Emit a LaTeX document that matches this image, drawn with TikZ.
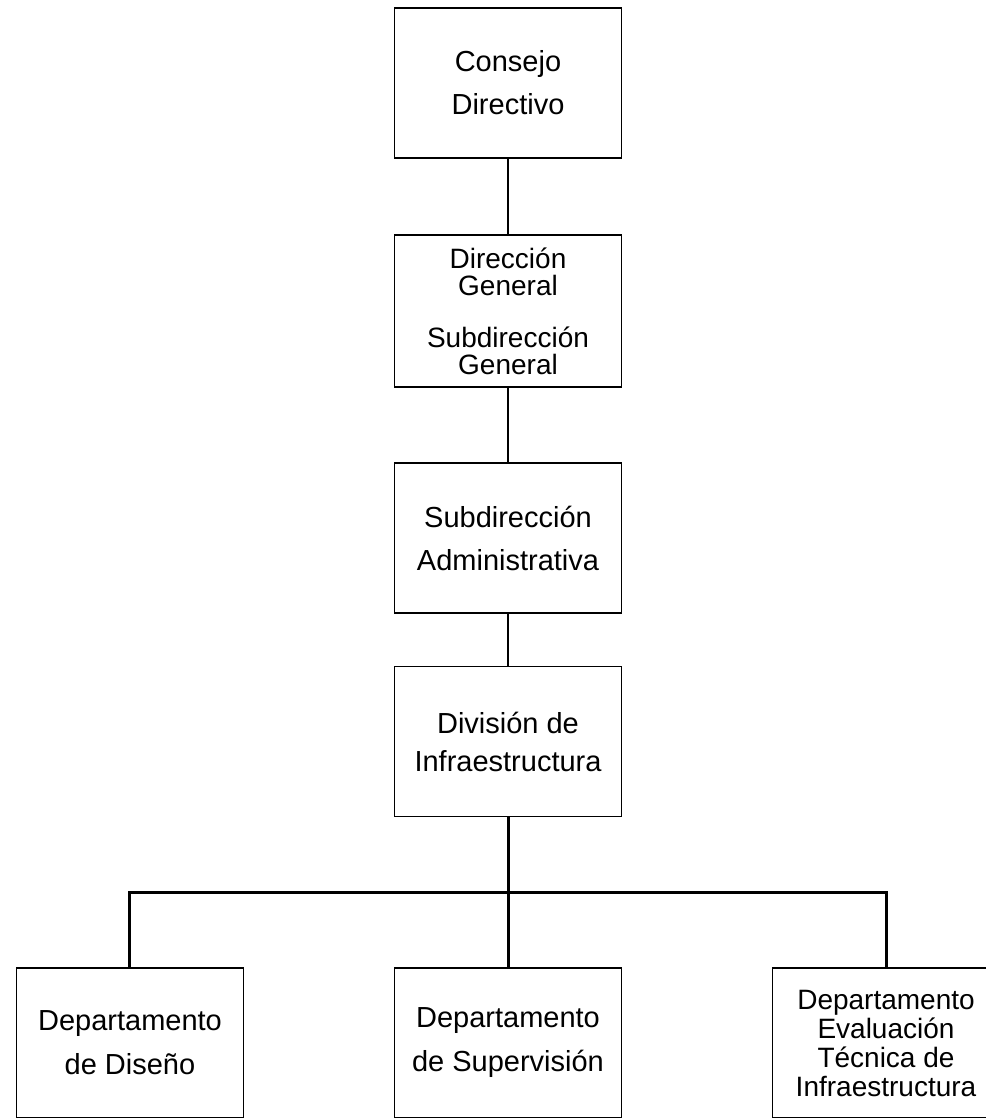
\documentclass[tikz,border=0pt]{standalone}
\usepackage{fontspec}
\setmainfont{Liberation Sans}
\usetikzlibrary{positioning}
\tikzstyle{cargo} = [rectangle, minimum width=227pt, minimum height=150pt, inner sep=0pt, align=center, draw=black, line width=1.8pt, font=\fontsize{29}{43}\selectfont]
\tikzstyle{linea} = [line width=1.8pt]
\tikzstyle{rama} = [line width=3pt]

\begin{document}
\begin{tikzpicture}[x=1pt, y=1pt]
\useasboundingbox (-508,83) rectangle (477,-1035);

\node (consejo) [cargo] {Consejo\\Directivo};
\node (direccion) [cargo, below of=consejo, node distance=228pt, minimum height=152pt, font=\fontsize{28}{27}\selectfont] {Dirección\\General\\[25pt]Subdirección\\General};
\node (subadmin) [cargo, below of=direccion, node distance=227pt] {Subdirección\\Administrativa};
\node (division) [cargo, below of=subadmin, node distance=203.5pt, font=\fontsize{29}{38}\selectfont] {División de\\Infraestructura};

\node (depSup) [cargo, below of=division, node distance=301.5pt, font=\fontsize{29}{44}\selectfont] {Departamento\\de Supervisión};
\node (depDis) [cargo, below of=division, node distance=301.5pt, xshift=-378pt, font=\fontsize{29}{44}\selectfont] {Departamento\\de Diseño};
\node (depEva) [cargo, below of=division, node distance=301.5pt, xshift=378pt, font=\fontsize{28}{29}\selectfont] {Departamento\\Evaluación\\Técnica de\\Infraestructura};

\draw [linea] (consejo) -- (direccion);
\draw [linea] (direccion) -- (subadmin);
\draw [linea] (subadmin) -- (division);

\path (division.south) -- (depSup.north) coordinate[midway] (barra);
\draw [rama] (division) -- (depSup);
\draw [rama] (depDis.north) |- (barra) -| (depEva.north);

\end{tikzpicture}
\end{document}
